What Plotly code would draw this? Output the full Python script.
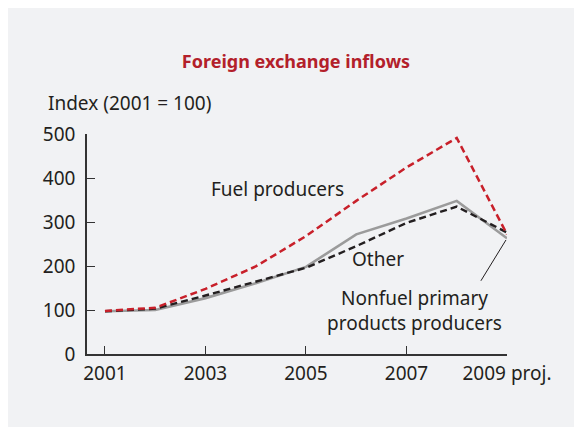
import plotly.graph_objects as go

years = [2001, 2002, 2003, 2004, 2005, 2006, 2007, 2008, 2009]
fuel_producers = [98, 105, 148, 199, 268, 348, 424, 491, 272]
other = [97, 103, 133, 164, 196, 245, 298, 335, 276]
nonfuel_primary = [97, 100, 127, 161, 198, 272, 308, 348, 263]

tick_years = [2001, 2003, 2005, 2007, 2009]
tick_labels = ["2001", "2003", "2005", "2007", "2009 proj."]
y_ticks = [0, 100, 200, 300, 400, 500]

FONT = "Noto Sans"
TXT = "#231f20"
RED = "#c8202a"

fig = go.Figure()
fig.add_trace(go.Scatter(x=years, y=nonfuel_primary, mode="lines",
                         line=dict(color="#9b9b9b", width=2.6), name="Nonfuel primary products producers"))
fig.add_trace(go.Scatter(x=years, y=other, mode="lines",
                         line=dict(color="#231f20", width=2.4, dash="7px,4px"), name="Other"))
fig.add_trace(go.Scatter(x=years, y=fuel_producers, mode="lines",
                         line=dict(color=RED, width=2.5, dash="7px,4px"), name="Fuel producers"))

# page is offset by 8px body margin
OFF = 8
W, H = 582 - OFF, 427 - OFF
L, T = 87 - OFF, 134 - OFF
R = W - (507 - OFF)
B = H - (354 - OFF)
pw, ph = W - L - R, H - T - B

def px(xp):
    return (xp - OFF - L) / pw

def py(yp):
    return (H - B - (yp - OFF)) / ph

fig.update_layout(
    width=W, height=H,
    margin=dict(l=L, r=R, t=T, b=B),
    paper_bgcolor="#f1f2f4", plot_bgcolor="rgba(0,0,0,0)",
    showlegend=False,
    font=dict(family=FONT, size=19, color=TXT),
    title=dict(text="<b>Foreign exchange inflows</b>", xref="container", yref="container",
               x=(296 - OFF) / W, y=1 - (62 - OFF) / H, xanchor="center", yanchor="middle",
               font=dict(family=FONT, size=18, color="#b3202a")),
)

fig.update_xaxes(range=[2000.642, 2009], tickvals=tick_years, ticktext=tick_labels,
                 showline=True, linecolor="#333333", linewidth=1.5,
                 ticks="inside", ticklen=8, tickwidth=1.3, tickcolor="#333333",
                 showgrid=False, zeroline=False, ticklabelstandoff=1,
                 tickfont=dict(family=FONT, size=19, color=TXT))
fig.update_yaxes(range=[0, 500], tickvals=y_ticks,
                 showline=True, linecolor="#333333", linewidth=1.5,
                 ticks="inside", ticklen=8, tickwidth=1.3, tickcolor="#333333",
                 showgrid=False, zeroline=False, ticklabelstandoff=6,
                 tickfont=dict(family=FONT, size=19, color=TXT))

ann_font = dict(family=FONT, size=19, color=TXT)
fig.add_annotation(text="Index (2001 = 100)", xref="paper", yref="paper", font=ann_font,
                   x=px(46), y=py(103), xanchor="left", yanchor="middle", showarrow=False)
fig.add_annotation(text="Fuel producers", x=2004.44, y=375, showarrow=False, font=ann_font)
fig.add_annotation(text="Other", x=2006.43, y=216, showarrow=False, font=ann_font)
fig.add_annotation(text="Nonfuel primary<br>products producers", x=2007.15, y=98,
                   showarrow=False, font=ann_font)
fig.add_annotation(text="", x=years[-1], y=nonfuel_primary[-1], ax=-27, ay=44,
                   showarrow=True, arrowhead=0, arrowwidth=1, arrowcolor="#231f20", standoff=2)

fig.write_html("out.html")
